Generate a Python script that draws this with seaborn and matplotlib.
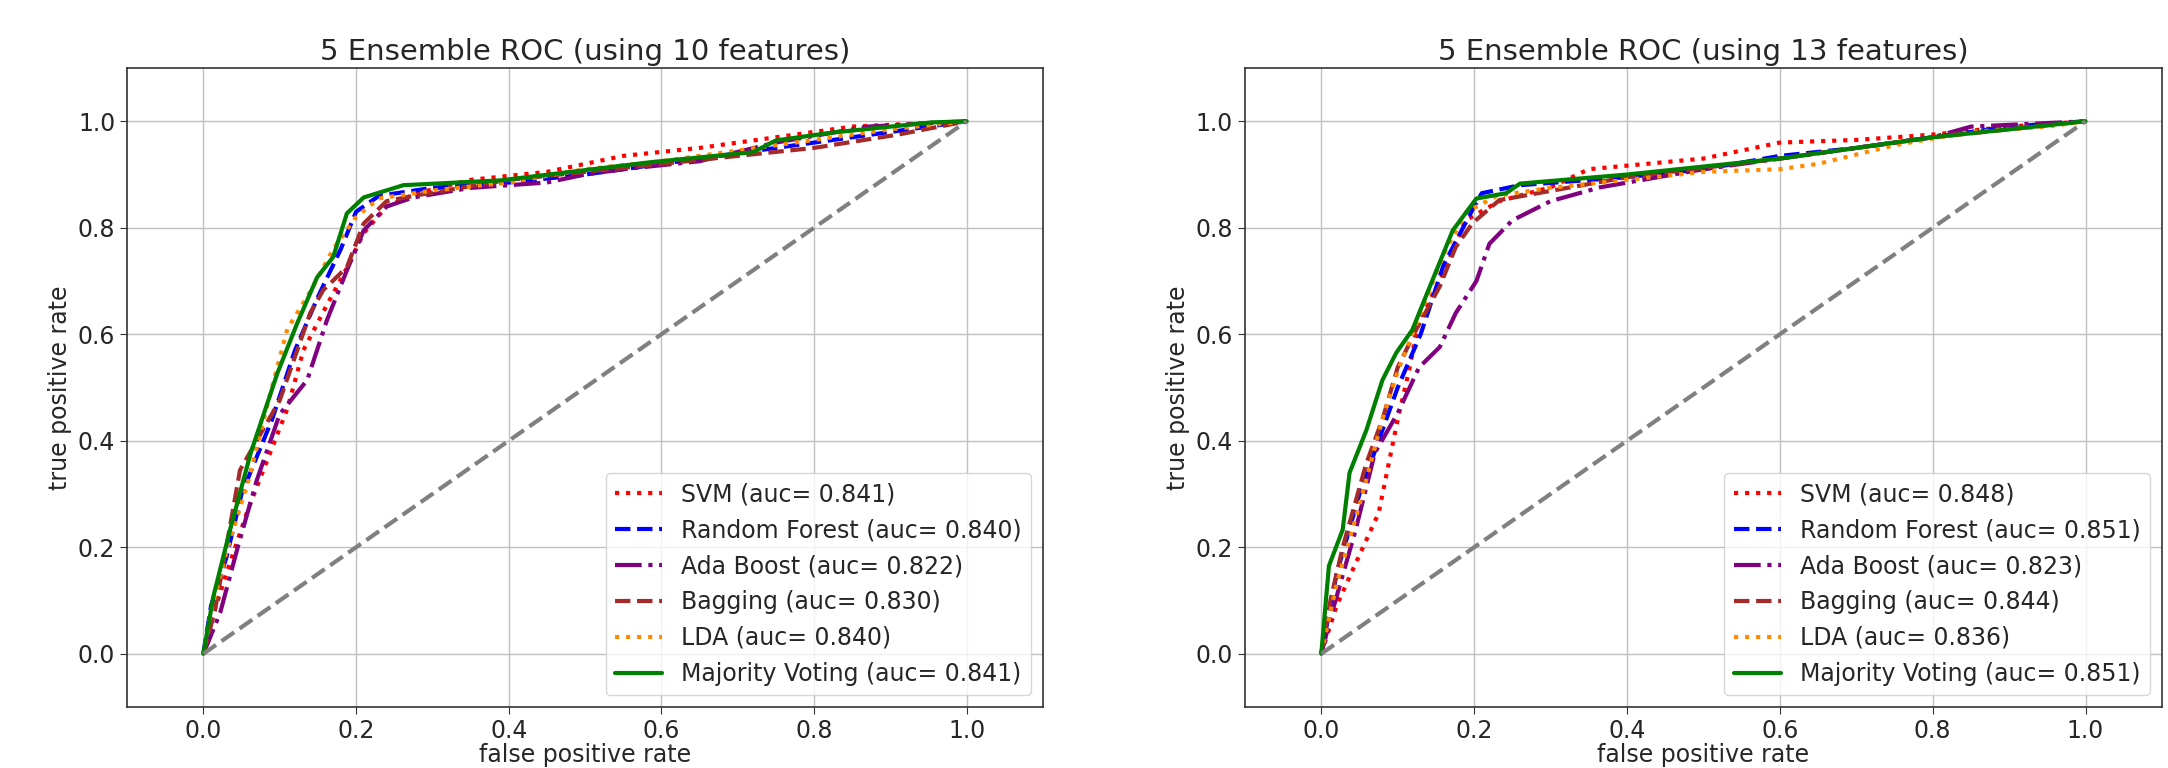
import matplotlib
matplotlib.use("Agg")
import matplotlib.pyplot as plt
import seaborn as sns

sns.set_style("ticks", {"axes.grid": True})
plt.rcParams['font.family'] = ['DejaVu Sans']

# ---- data (fpr, tpr) ----
# 10 features
svm10_fpr = [0, 0.01, 0.03, 0.057, 0.08, 0.11, 0.131, 0.16, 0.19, 0.21, 0.24, 0.28, 0.35, 0.45, 0.55, 0.65, 0.75, 0.85, 1.0]
svm10_tpr = [0, 0.06, 0.15, 0.265, 0.35, 0.46, 0.57, 0.65, 0.73, 0.79, 0.84, 0.865, 0.89, 0.905, 0.935, 0.95, 0.97, 0.99, 1.0]
rf10_fpr = [0, 0.01, 0.03, 0.05, 0.09, 0.12, 0.15, 0.18, 0.2, 0.23, 0.3, 0.4, 0.5, 0.6, 0.7, 0.8, 0.9, 1.0]
rf10_tpr = [0, 0.09, 0.18, 0.3, 0.44, 0.57, 0.67, 0.76, 0.83, 0.86, 0.875, 0.885, 0.9, 0.92, 0.94, 0.96, 0.98, 1.0]
ada10_fpr = [0, 0.022, 0.045, 0.07, 0.10, 0.136, 0.162, 0.188, 0.21, 0.24, 0.275, 0.35, 0.45, 0.5, 0.55, 0.65, 0.75, 0.87, 1.0]
ada10_tpr = [0, 0.077, 0.2, 0.326, 0.45, 0.514, 0.627, 0.72, 0.795, 0.84, 0.857, 0.875, 0.885, 0.9, 0.91, 0.925, 0.96, 0.99, 1.0]
bag10_fpr = [0, 0.015, 0.03, 0.048, 0.10, 0.14, 0.157, 0.188, 0.21, 0.24, 0.275, 0.4, 0.6, 0.8, 0.91, 1.0]
bag10_tpr = [0, 0.08, 0.2, 0.345, 0.476, 0.64, 0.683, 0.726, 0.808, 0.85, 0.86, 0.89, 0.92, 0.95, 0.975, 1.0]
lda10_fpr = [0, 0.01, 0.03, 0.06, 0.088, 0.11, 0.14, 0.17, 0.2, 0.23, 0.3, 0.4, 0.5, 0.6, 0.7, 0.8, 0.9, 1.0]
lda10_tpr = [0, 0.08, 0.19, 0.33, 0.49, 0.61, 0.68, 0.76, 0.82, 0.855, 0.87, 0.885, 0.91, 0.925, 0.945, 0.965, 0.985, 1.0]
mv10_fpr = [0, 0.013, 0.035, 0.062, 0.097, 0.123, 0.149, 0.17, 0.188, 0.21, 0.262, 0.389, 0.585, 0.72, 0.75, 0.825, 0.955, 1.0]
mv10_tpr = [0, 0.107, 0.233, 0.377, 0.527, 0.621, 0.707, 0.745, 0.827, 0.857, 0.88, 0.889, 0.923, 0.942, 0.964, 0.979, 0.998, 1.0]

# 13 features
svm13_fpr = [0, 0.02, 0.045, 0.075, 0.10, 0.115, 0.128, 0.155, 0.189, 0.233, 0.30, 0.35, 0.5, 0.6, 0.7, 0.8, 0.9, 1.0]
svm13_tpr = [0, 0.09, 0.17, 0.264, 0.44, 0.533, 0.627, 0.70, 0.814, 0.85, 0.876, 0.91, 0.93, 0.96, 0.965, 0.975, 0.99, 1.0]
rf13_fpr = [0, 0.02, 0.05, 0.07, 0.1, 0.13, 0.16, 0.2, 0.21, 0.26, 0.4, 0.5, 0.6, 0.7, 0.8, 0.9, 1.0]
rf13_tpr = [0, 0.15, 0.3, 0.38, 0.5, 0.6, 0.73, 0.84, 0.865, 0.88, 0.895, 0.91, 0.935, 0.95, 0.97, 0.99, 1.0]
ada13_fpr = [0, 0.014, 0.045, 0.07, 0.10, 0.128, 0.155, 0.176, 0.203, 0.22, 0.25, 0.30, 0.365, 0.5, 0.6, 0.8, 0.85, 1.0]
ada13_tpr = [0, 0.077, 0.233, 0.377, 0.452, 0.538, 0.576, 0.64, 0.70, 0.77, 0.814, 0.85, 0.876, 0.91, 0.93, 0.97, 0.99, 1.0]
bag13_fpr = [0, 0.012, 0.028, 0.059, 0.08, 0.10, 0.124, 0.155, 0.176, 0.198, 0.233, 0.4, 0.6, 0.8, 1.0]
bag13_tpr = [0, 0.1, 0.20, 0.358, 0.44, 0.538, 0.608, 0.69, 0.764, 0.809, 0.852, 0.895, 0.93, 0.97, 1.0]
lda13_fpr = [0, 0.02, 0.05, 0.08, 0.1, 0.13, 0.16, 0.19, 0.23, 0.3, 0.4, 0.5, 0.6, 0.65, 0.75, 0.85, 0.95, 1.0]
lda13_tpr = [0, 0.13, 0.28, 0.44, 0.53, 0.64, 0.75, 0.83, 0.86, 0.875, 0.89, 0.905, 0.91, 0.92, 0.955, 0.98, 0.99, 1.0]
mv13_fpr = [0, 0.01, 0.028, 0.037, 0.059, 0.08, 0.098, 0.119, 0.145, 0.172, 0.203, 0.242, 0.26, 0.4, 0.6, 0.8, 1.0]
mv13_tpr = [0, 0.165, 0.233, 0.34, 0.42, 0.514, 0.565, 0.608, 0.70, 0.795, 0.855, 0.865, 0.883, 0.90, 0.93, 0.97, 1.0]

names = ["SVM", "Random Forest", "Ada Boost", "Bagging", "LDA", "Majority Voting"]
auc10 = [0.841, 0.840, 0.822, 0.830, 0.840, 0.841]
auc13 = [0.848, 0.851, 0.823, 0.844, 0.836, 0.851]
colors = ["red", "blue", "purple", "brown", "darkorange", "green"]
styles = [":", "--", "-.", "--", ":", "-"]

curves10 = [(svm10_fpr, svm10_tpr), (rf10_fpr, rf10_tpr), (ada10_fpr, ada10_tpr),
            (bag10_fpr, bag10_tpr), (lda10_fpr, lda10_tpr), (mv10_fpr, mv10_tpr)]
curves13 = [(svm13_fpr, svm13_tpr), (rf13_fpr, rf13_tpr), (ada13_fpr, ada13_tpr),
            (bag13_fpr, bag13_tpr), (lda13_fpr, lda13_tpr), (mv13_fpr, mv13_tpr)]

fig = plt.figure(figsize=(21.68, 7.68), dpi=100)
ax1 = fig.add_axes([0.0586, 0.0794, 0.4225, 0.832])
ax2 = fig.add_axes([0.5742, 0.0794, 0.4230, 0.832])

for ax, curves, aucs, n_feat in [(ax1, curves10, auc10, 10), (ax2, curves13, auc13, 13)]:
    for (fpr, tpr), name, auc, c, ls in zip(curves, names, aucs, colors, styles):
        sns.lineplot(x=fpr, y=tpr, ax=ax, color=c, linestyle=ls, linewidth=3,
                     sort=False, estimator=None,
                     label=f"{name} (auc= {auc:.3f})")
    ax.plot([0, 1], [0, 1], color="gray", linestyle="--", linewidth=3)
    ax.set_xlim(-0.1, 1.1)
    ax.set_ylim(-0.1, 1.1)
    ax.set_xticks([0.0, 0.2, 0.4, 0.6, 0.8, 1.0])
    ax.set_yticks([0.0, 0.2, 0.4, 0.6, 0.8, 1.0])
    ax.grid(True, color="#c0c0c0", linewidth=1)
    ax.tick_params(labelsize=17, length=5, color="#333333")
    for s in ax.spines.values():
        s.set_color("#333333")
        s.set_linewidth(1.2)
    ax.set_xlabel("false positive rate", fontsize=17, labelpad=0)
    ax.set_ylabel("true positive rate", fontsize=17)
    ax.set_title(f"5 Ensemble ROC (using {n_feat} features)", fontsize=21, pad=6)
    ax.legend(loc="lower right", fontsize=17, frameon=True, fancybox=True, framealpha=0.8)

fig.savefig("out.png", dpi=100)
